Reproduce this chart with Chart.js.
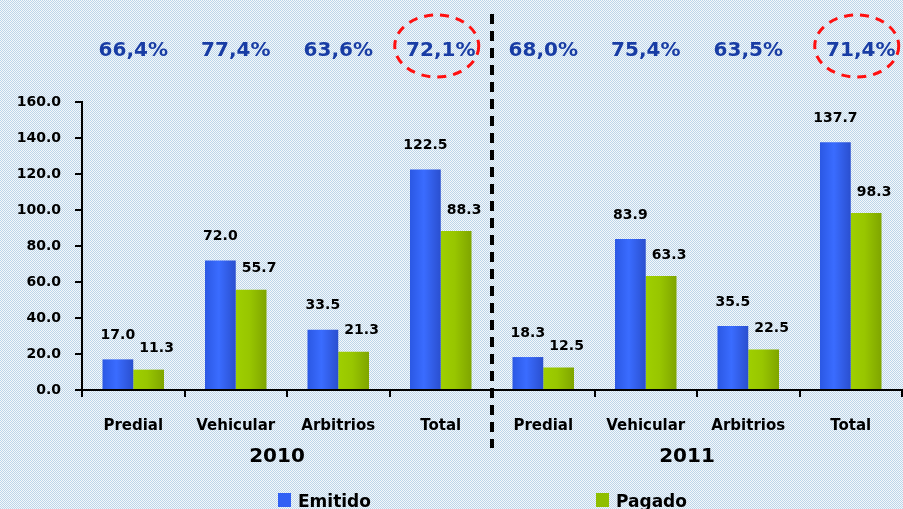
<!DOCTYPE html>
<html>
<head>
<meta charset="utf-8">
<script src="https://cdn.jsdelivr.net/npm/chart.js@4.4.1/dist/chart.umd.min.js"></script>
<style>
  html, body { margin: 0; padding: 0; background: #dce9f3; }
  #wrap { width: 903px; height: 509px; position: relative; }
</style>
</head>
<body>
<div id="wrap"><canvas id="chart" width="903" height="509"></canvas></div>
<script>
// Datos
const categorias = ['Predial', 'Vehicular', 'Arbitrios', 'Total', 'Predial', 'Vehicular', 'Arbitrios', 'Total'];
const anios = ['2010', '2011'];
const emitido = [17.0, 72.0, 33.5, 122.5, 18.3, 83.9, 35.5, 137.7];
const pagado = [11.3, 55.7, 21.3, 88.3, 12.5, 63.3, 22.5, 98.3];
const porcentajes = ['66,4%', '77,4%', '63,6%', '72,1%', '68,0%', '75,4%', '63,5%', '71,4%'];
const marcados = [3, 7]; // porcentajes encerrados en círculo

const FONT = 'DejaVu Sans';
Chart.defaults.font.family = FONT;

// Relleno en degradado horizontal para cada barra
function gradiente(ctx, colores) {
    const chart = ctx.chart;
    const x = chart.scales && chart.scales.x;
    if (!x || !chart.chartArea || ctx.dataIndex === undefined) return colores[1];
    const w = (x.right - x.left) / categorias.length;
    const bw = w * 0.3;
    const c = x.getPixelForValue(ctx.dataIndex);
    const left = ctx.datasetIndex === 0 ? c - bw : c;
    const g = chart.ctx.createLinearGradient(left, 0, left + bw, 0);
    g.addColorStop(0, colores[0]);
    g.addColorStop(0.45, colores[1]);
    g.addColorStop(1, colores[2]);
    return g;
}

// Fondo punteado celeste
const fondo = {
    id: 'fondo',
    beforeDraw(chart) {
        const tile = document.createElement('canvas');
        tile.width = 2; tile.height = 2;
        const t = tile.getContext('2d');
        t.fillStyle = '#f4f8fb';
        t.fillRect(0, 0, 2, 2);
        t.fillStyle = '#bdd5e9';
        t.fillRect(0, 0, 1, 1);
        t.fillRect(1, 1, 1, 1);
        const ctx = chart.ctx;
        ctx.save();
        ctx.fillStyle = ctx.createPattern(tile, 'repeat');
        ctx.fillRect(0, 0, chart.width, chart.height);
        ctx.restore();
    }
};

// Etiquetas, porcentajes, separador, años y leyenda
const extras = {
    id: 'extras',
    afterDatasetsDraw(chart) {
        const ctx = chart.ctx;
        const x = chart.scales.x;
        const w = (x.right - x.left) / categorias.length;
        ctx.save();

        // valores sobre las barras
        ctx.font = 'bold 14px ' + FONT;
        ctx.fillStyle = '#000';
        ctx.textAlign = 'center';
        ctx.textBaseline = 'middle';
        chart.data.datasets.forEach((ds, di) => {
            const meta = chart.getDatasetMeta(di);
            meta.data.forEach((bar, i) => {
                const dx = di === 0 ? 0 : 8;
                const dy = di === 0 ? -24 : -21;
                ctx.fillText(ds.data[i].toFixed(1), bar.x + dx, bar.y + dy);
            });
        });

        // porcentajes arriba
        ctx.font = 'bold 20px ' + FONT;
        ctx.fillStyle = '#183ca4';
        porcentajes.forEach((p, i) => {
            const dx = i === porcentajes.length - 1 ? 10 : 0;
            ctx.fillText(p, x.getPixelForValue(i) + dx, 51);
        });

        // elipses rojas punteadas
        ctx.strokeStyle = '#ff1010';
        ctx.lineWidth = 3;
        ctx.setLineDash([9, 7]);
        marcados.forEach(i => {
            const dx = i === porcentajes.length - 1 ? 10 : 0;
            ctx.beginPath();
            ctx.ellipse(x.getPixelForValue(i) + dx - 4, 46, 42, 31, 0, 0, Math.PI * 2);
            ctx.stroke();
        });

        // separador entre años
        const sep = x.getPixelForValue(3) + w / 2;
        ctx.strokeStyle = '#000';
        ctx.lineWidth = 4;
        ctx.setLineDash([10, 7]);
        ctx.beginPath();
        ctx.moveTo(sep, 14);
        ctx.lineTo(sep, 448);
        ctx.stroke();
        ctx.setLineDash([]);

        // años
        ctx.font = 'bold 20px ' + FONT;
        ctx.fillStyle = '#000';
        anios.forEach((a, k) => {
            const cx = x.left + (k * 4 + 2) * w - 10;
            ctx.fillText(a, cx, 457);
        });

        // leyenda
        const posLeyenda = [278, 596];
        ctx.font = 'bold 17px ' + FONT;
        ctx.textAlign = 'left';
        ctx.textBaseline = 'alphabetic';
        chart.data.datasets.forEach((ds, di) => {
            const lx = posLeyenda[di];
            ctx.fillStyle = ds.legendColor;
            ctx.fillRect(lx, 493, 13, 14);
            ctx.fillStyle = '#000';
            ctx.fillText(ds.label, lx + 20, 507);
        });
        ctx.restore();
    }
};

new Chart(document.getElementById('chart'), {
    type: 'bar',
    data: {
        labels: categorias,
        datasets: [
            {
                label: 'Emitido',
                data: emitido,
                legendColor: '#3160f4',
                backgroundColor: ctx => gradiente(ctx, ['#2b58e4', '#3a6cff', '#2a4fcf'])
            },
            {
                label: 'Pagado',
                data: pagado,
                legendColor: '#8fbf00',
                backgroundColor: ctx => gradiente(ctx, ['#9fcf00', '#98c600', '#7fa500'])
            }
        ]
    },
    options: {
        responsive: false,
        animation: false,
        events: [],
        layout: { padding: { top: 102, right: 1, bottom: 0, left: 0 } },
        datasets: {
            bar: { categoryPercentage: 0.6, barPercentage: 1.0, borderWidth: 0 }
        },
        plugins: {
            legend: { display: false },
            tooltip: { enabled: false }
        },
        scales: {
            x: {
                afterFit(scale) { scale.height = 119; },
                border: { color: '#000', width: 2 },
                grid: { drawOnChartArea: false, drawTicks: true, tickLength: 7, color: '#000', lineWidth: 2 },
                ticks: {
                    color: '#000',
                    padding: 20,
                    maxRotation: 0,
                    font: { size: 15, weight: 'bold' }
                }
            },
            y: {
                min: 0,
                max: 160,
                afterFit(scale) { scale.width = 82; },
                border: { color: '#000', width: 2 },
                grid: { drawOnChartArea: false, drawTicks: true, tickLength: 7, color: '#000', lineWidth: 2 },
                ticks: {
                    stepSize: 20,
                    color: '#000',
                    padding: 14,
                    font: { size: 14, weight: 'bold' },
                    callback: v => v.toFixed(1)
                }
            }
        }
    },
    plugins: [fondo, extras]
});
</script>
</body>
</html>
